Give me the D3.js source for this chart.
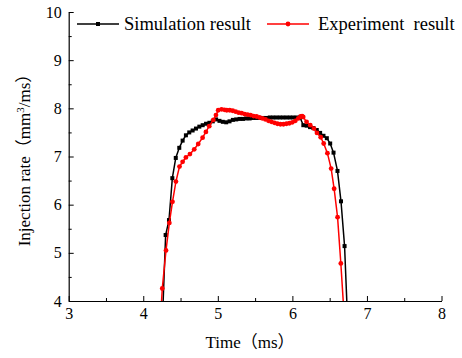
<!DOCTYPE html>
<html>
<head>
<meta charset="utf-8">
<script src="https://cdn.jsdelivr.net/npm/d3@7"></script>
<style>
  body { margin: 0; background: #fff; }
  text { font-family: "Liberation Serif", "Noto Sans CJK SC", serif; fill: #000; }
</style>
</head>
<body>
<script>
let width = 462;
let height = 358;

// 数据
const simTime = [4.262, 4.300, 4.345, 4.390, 4.436, 4.483, 4.528, 4.572, 4.617, 4.662, 4.707, 4.752,
  4.797, 4.842, 4.887, 4.932, 4.977, 5.022, 5.067, 5.112, 5.157, 5.202, 5.247, 5.292, 5.337, 5.382,
  5.427, 5.472, 5.517, 5.562, 5.607, 5.652, 5.697, 5.742, 5.787, 5.832, 5.877, 5.922, 5.967, 6.012,
  6.057, 6.102, 6.147, 6.192, 6.237, 6.282, 6.327, 6.372, 6.417, 6.462, 6.507, 6.552, 6.605, 6.652,
  6.700, 6.735];
const simRate = [3.8, 5.37, 5.68, 6.55, 6.97, 7.18, 7.33, 7.44, 7.50, 7.54, 7.58, 7.62,
  7.65, 7.68, 7.70, 7.73, 7.77, 7.74, 7.72, 7.71, 7.73, 7.76, 7.77, 7.78, 7.78, 7.79,
  7.79, 7.80, 7.80, 7.80, 7.80, 7.80, 7.81, 7.81, 7.81, 7.81, 7.81, 7.81, 7.81, 7.81,
  7.81, 7.81, 7.65, 7.64, 7.61, 7.59, 7.55, 7.49, 7.43, 7.38, 7.27, 7.08, 6.70, 6.07,
  5.14, 3.8];

const expTime = [4.238, 4.255, 4.305, 4.350, 4.392, 4.438, 4.486, 4.528, 4.572, 4.626, 4.684, 4.737,
  4.796, 4.840, 4.885, 4.940, 4.975, 5.005, 5.050, 5.090, 5.120, 5.160, 5.200, 5.240, 5.280, 5.320,
  5.360, 5.400, 5.440, 5.480, 5.520, 5.560, 5.600, 5.640, 5.680, 5.720, 5.760, 5.800, 5.840, 5.880,
  5.920, 5.960, 6.000, 6.040, 6.080, 6.110, 6.130, 6.145, 6.190, 6.240, 6.290, 6.330, 6.380, 6.420,
  6.470, 6.520, 6.560, 6.606, 6.650, 6.690];
const expRate = [3.8, 4.26, 5.05, 5.62, 6.06, 6.48, 6.79, 6.89, 6.98, 7.05, 7.15, 7.26,
  7.39, 7.51, 7.63, 7.76, 7.86, 7.96, 7.98, 7.97, 7.96, 7.96, 7.95, 7.93, 7.91, 7.90,
  7.88, 7.87, 7.86, 7.84, 7.83, 7.81, 7.79, 7.77, 7.74, 7.72, 7.70, 7.68, 7.67, 7.67,
  7.68, 7.69, 7.71, 7.74, 7.79, 7.83, 7.84, 7.82, 7.72, 7.65, 7.58, 7.49, 7.40, 7.27,
  7.07, 6.75, 6.33, 5.74, 4.78, 3.8];

const xTicks = [3, 4, 5, 6, 7, 8];
const xMinor = [3.5, 4.5, 5.5, 6.5, 7.5];
const yTicks = [4, 5, 6, 7, 8, 9, 10];
const yMinor = [4.5, 5.5, 6.5, 7.5, 8.5, 9.5];

const seriesNames = ['Simulation result', 'Experiment  result'];
const seriesColors = ['#000000', '#ff0000'];

const simData = simTime.map((t, i) => ({ t: t, v: simRate[i] }));
const expData = expTime.map((t, i) => ({ t: t, v: expRate[i] }));

// 比例尺
let x = d3.scaleLinear().domain([3, 8]).range([68.7, 441.5]);
let y = d3.scaleLinear().domain([4, 10]).range([301, 12]);

const svg = d3.select('body')
  .append('svg')
  .attr('width', width)
  .attr('height', height);

svg.append('clipPath').attr('id', 'plot')
  .append('rect')
  .attr('x', x(3)).attr('y', 0)
  .attr('width', x(8) - x(3)).attr('height', y(4));

const line = d3.line().x(d => x(d.t)).y(d => y(d.v));

const plot = svg.append('g').attr('clip-path', 'url(#plot)');

// 模拟结果
plot.append('path')
  .datum(simData)
  .attr('fill', 'none')
  .attr('stroke', seriesColors[0])
  .attr('stroke-width', 1.5)
  .attr('d', line);
plot.append('g')
  .selectAll('rect')
  .data(simData)
  .enter().append('rect')
  .attr('x', d => x(d.t) - 2)
  .attr('y', d => y(d.v) - 2)
  .attr('width', 4)
  .attr('height', 4)
  .attr('fill', seriesColors[0]);

// 实验结果
plot.append('path')
  .datum(expData)
  .attr('fill', 'none')
  .attr('stroke', seriesColors[1])
  .attr('stroke-width', 1.5)
  .attr('d', line);
plot.append('g')
  .selectAll('circle')
  .data(expData)
  .enter().append('circle')
  .attr('cx', d => x(d.t))
  .attr('cy', d => y(d.v))
  .attr('r', 2.4)
  .attr('fill', seriesColors[1]);

// 坐标轴
const styleAxis = g => {
  g.attr('font-family', null).attr('font-size', null);
  g.selectAll('.domain').attr('stroke', '#000').attr('stroke-width', 1.2);
  g.selectAll('.tick line').attr('stroke', '#000').attr('stroke-width', 1);
  g.selectAll('.tick text')
    .style('font-family', '"Liberation Serif", serif')
    .style('font-size', '16px');
};

svg.append('g')
  .attr('transform', `translate(0, ${y(4)})`)
  .call(d3.axisBottom(x).tickValues(xMinor).tickSizeInner(-3).tickSizeOuter(0).tickFormat(''))
  .call(g => g.select('.domain').remove())
  .call(styleAxis);
svg.append('g')
  .attr('transform', `translate(0, ${y(4)})`)
  .call(d3.axisBottom(x).tickValues(xTicks).tickSizeInner(-5).tickSizeOuter(0).tickPadding(7).tickFormat(d3.format('d')))
  .call(styleAxis);

svg.append('g')
  .attr('transform', `translate(${x(3)}, 0)`)
  .call(d3.axisLeft(y).tickValues(yMinor).tickSizeInner(-3).tickSizeOuter(0).tickFormat(''))
  .call(g => g.select('.domain').remove())
  .call(styleAxis);
svg.append('g')
  .attr('transform', `translate(${x(3)}, 0)`)
  .call(d3.axisLeft(y).tickValues(yTicks).tickSizeInner(-5).tickSizeOuter(0).tickPadding(7).tickFormat(d3.format('d')))
  .call(styleAxis);

// 轴标题
svg.append('text')
  .attr('x', 250)
  .attr('y', 348)
  .attr('text-anchor', 'middle')
  .style('font-size', '17px')
  .text('Time（ms）');

const yTitle = svg.append('text')
  .attr('transform', 'translate(30, 156) rotate(-90)')
  .attr('text-anchor', 'middle')
  .style('font-size', '17px');
yTitle.append('tspan').text('Injection rate（mm');
yTitle.append('tspan').attr('dy', -6).style('font-size', '11px').text('3');
yTitle.append('tspan').attr('dy', 6).text('/ms）');

// 图例
const legend = svg.append('g');
const legendX = [77, 267];
seriesNames.forEach((name, i) => {
  const g = legend.append('g').attr('transform', `translate(${legendX[i]}, 24)`);
  g.append('line')
    .attr('x1', 0).attr('x2', 42)
    .attr('stroke', seriesColors[i]).attr('stroke-width', 1.5);
  if (i === 0) {
    g.append('rect').attr('x', 19).attr('y', -2).attr('width', 4).attr('height', 4).attr('fill', seriesColors[i]);
  } else {
    g.append('circle').attr('cx', 21).attr('r', 2.4).attr('fill', seriesColors[i]);
  }
  g.append('text')
    .attr('x', i === 0 ? 47 : 51)
    .attr('y', 6)
    .style('font-size', '18.5px')
    .style('white-space', 'pre')
    .text(name);
});
</script>
</body>
</html>
